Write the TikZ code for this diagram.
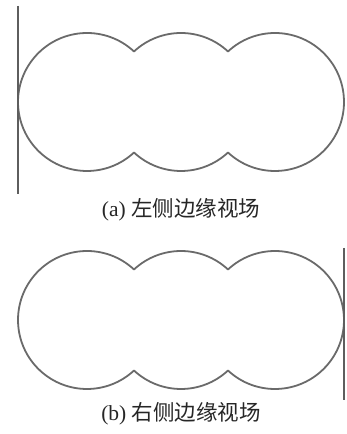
\documentclass[tikz,border=0pt]{standalone}
\usepackage{fontspec}
\setmainfont{Liberation Serif}
\newfontfamily\cjk{Noto Sans CJK SC}
\definecolor{outlinegray}{HTML}{6A6A6A}
\definecolor{edgegray}{HTML}{5E5E5E}
\tikzset{
  fieldoutline/.style={draw=outlinegray, line width=1.8pt, line join=round},
  edgeline/.style={draw=edgegray, line width=2pt},
  captiontext/.style={inner sep=0pt, font=\fontsize{21.5pt}{23pt}\selectfont, text=black!85}
}
\begin{document}
\begin{tikzpicture}[x=1pt,y=1pt]
\useasboundingbox (0,0) rectangle (346,434);
\pgfmathsetmacro{\rr}{69}
\pgfmathsetmacro{\hd}{47}
\pgfmathsetmacro{\hh}{sqrt(\rr*\rr-\hd*\hd)}
\pgfmathsetmacro{\al}{atan2(\hh,\hd)}
% (a) left edge field
\draw[fieldoutline] (87+\hd,332+\hh)
  arc[start angle=\al, end angle=360-\al, radius=\rr]
  arc[start angle=180+\al, end angle=360-\al, radius=\rr]
  arc[start angle=180+\al, end angle=540-\al, radius=\rr]
  arc[start angle=\al, end angle=180-\al, radius=\rr] -- cycle;
\draw[edgeline] (18,428) -- (18,240);
\node[captiontext] (capa) at (181,224) {(a) {\cjk 左侧边缘视场}};
% (b) right edge field
\draw[fieldoutline] (87+\hd,114+\hh)
  arc[start angle=\al, end angle=360-\al, radius=\rr]
  arc[start angle=180+\al, end angle=360-\al, radius=\rr]
  arc[start angle=180+\al, end angle=540-\al, radius=\rr]
  arc[start angle=\al, end angle=180-\al, radius=\rr] -- cycle;
\draw[edgeline] (344,186) -- (344,34);
\node[captiontext] (capb) at (181,20) {(b) {\cjk 右侧边缘视场}};
\end{tikzpicture}
\end{document}
